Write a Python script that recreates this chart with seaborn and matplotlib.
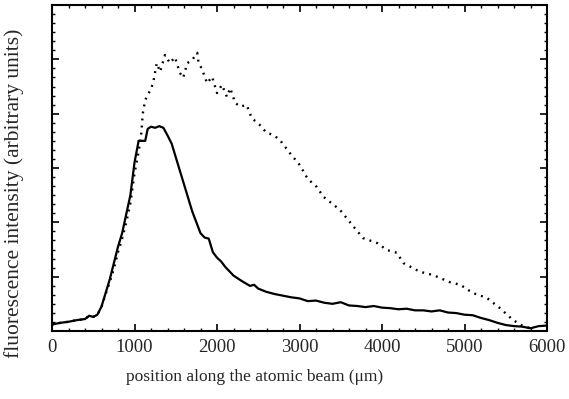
import matplotlib
matplotlib.use("Agg")
import matplotlib.pyplot as plt
import seaborn as sns
import pandas as pd
from matplotlib.ticker import MultipleLocator, NullFormatter

sns.set_style("ticks")
plt.rcParams['font.family'] = ['Liberation Serif', 'DejaVu Serif']

solid_x = [0, 100, 200, 300, 400, 450, 500, 550, 600, 650, 700, 750, 800, 850, 900, 950,
           1000, 1050, 1100, 1130, 1160, 1200, 1250, 1300, 1350, 1400, 1450, 1500, 1550,
           1600, 1650, 1700, 1750, 1800, 1850, 1900, 1950, 2000, 2050, 2100, 2200, 2300,
           2400, 2450, 2500, 2600, 2700, 2800, 2900, 3000, 3100, 3200, 3300, 3400, 3500,
           3600, 3700, 3800, 3900, 4000, 4100, 4200, 4300, 4400, 4500, 4600, 4700, 4800,
           4900, 5000, 5100, 5200, 5300, 5400, 5500, 5600, 5700, 5800, 5900, 6000]
solid_y = [0.12, 0.15, 0.17, 0.20, 0.22, 0.28, 0.26, 0.30, 0.45, 0.70, 0.95, 1.25, 1.55, 1.80,
           2.15, 2.50, 3.10, 3.50, 3.50, 3.50, 3.72, 3.76, 3.74, 3.77, 3.74, 3.60, 3.45, 3.20,
           2.95, 2.70, 2.45, 2.20, 2.00, 1.80, 1.72, 1.70, 1.45, 1.35, 1.28, 1.18, 1.02, 0.92,
           0.83, 0.85, 0.78, 0.72, 0.68, 0.65, 0.62, 0.60, 0.55, 0.56, 0.52, 0.50, 0.53, 0.47,
           0.46, 0.44, 0.46, 0.43, 0.42, 0.40, 0.41, 0.38, 0.38, 0.36, 0.38, 0.34, 0.33, 0.30,
           0.29, 0.24, 0.20, 0.15, 0.11, 0.09, 0.08, 0.05, 0.09, 0.10]

dotted_x = [0, 100, 200, 300, 400, 450, 500, 550, 600, 650, 700, 750, 800, 850, 900, 950,
            1000, 1050, 1080, 1100, 1130, 1160, 1200, 1230, 1270, 1310, 1370, 1430, 1490,
            1550, 1590, 1640, 1700, 1760, 1775, 1820, 1880, 1940, 2000, 2060, 2120, 2160,
            2220, 2280, 2360, 2420, 2520, 2600, 2680, 2760, 2880, 3000, 3100, 3210, 3290,
            3490, 3640, 3770, 3940, 4060, 4180, 4260, 4460, 4620, 4820, 4950, 5100, 5270,
            5430, 5590, 5700, 5760, 5800]
dotted_y = [0.12, 0.15, 0.17, 0.20, 0.22, 0.28, 0.26, 0.30, 0.44, 0.68, 0.90, 1.15, 1.45, 1.70,
            2.00, 2.35, 2.90, 3.30, 3.60, 4.00, 4.25, 4.35, 4.45, 4.60, 4.93, 4.77, 5.08, 4.93,
            5.04, 4.75, 4.66, 4.93, 4.99, 5.12, 4.95, 4.81, 4.56, 4.68, 4.38, 4.53, 4.31, 4.47,
            4.20, 4.13, 4.16, 3.92, 3.79, 3.65, 3.61, 3.52, 3.28, 3.06, 2.80, 2.65, 2.47, 2.23,
            1.95, 1.71, 1.62, 1.49, 1.44, 1.25, 1.09, 1.03, 0.90, 0.85, 0.70, 0.61, 0.42, 0.20,
            0.10, 0.07, 0.05]

x_ticks = [0, 1000, 2000, 3000, 4000, 5000, 6000]
x_label = "position along the atomic beam (\u03bcm)"
y_label = "fluorescence intensity (arbitrary units)"

df_solid = pd.DataFrame({"x": solid_x, "y": solid_y})
df_dot = pd.DataFrame({"x": dotted_x, "y": dotted_y})

fig = plt.figure(figsize=(5.69, 3.99), dpi=100)
ax = fig.add_axes([52 / 569, 68 / 399, 495 / 569, 326 / 399])

sns.lineplot(data=df_dot, x="x", y="y", ax=ax, color="black", lw=1.7,
             linestyle=(0, (0.8, 2.2)), sort=False, estimator=None)
sns.lineplot(data=df_solid, x="x", y="y", ax=ax, color="black", lw=1.6,
             sort=False, estimator=None)

ax.set_xlim(0, 6000)
ax.set_ylim(0, 6)
ax.set_xticks(x_ticks)
ax.set_xticklabels([str(t) for t in x_ticks], fontsize=13.5)
ax.xaxis.set_minor_locator(MultipleLocator(200))
ax.yaxis.set_major_locator(MultipleLocator(1))
ax.yaxis.set_minor_locator(MultipleLocator(1 / 6))
ax.yaxis.set_major_formatter(NullFormatter())
ax.tick_params(which="both", direction="in", top=True, right=True, color="black")
ax.tick_params(which="major", length=5, width=1.2, pad=6)
ax.tick_params(which="minor", length=2.5, width=1.0)
for s in ax.spines.values():
    s.set_linewidth(1.5)
    s.set_color("black")
    s.set_visible(True)

ax.set_xlabel("")
ax.set_ylabel("")
fig.text(255 / 569, 1 - 377 / 399, x_label, fontsize=12.5, ha="center", va="center")
fig.text(14 / 569, 1 - 193 / 399, y_label, rotation=90, fontsize=15.5,
         ha="center", va="center")

fig.savefig("out.png", dpi=100)
